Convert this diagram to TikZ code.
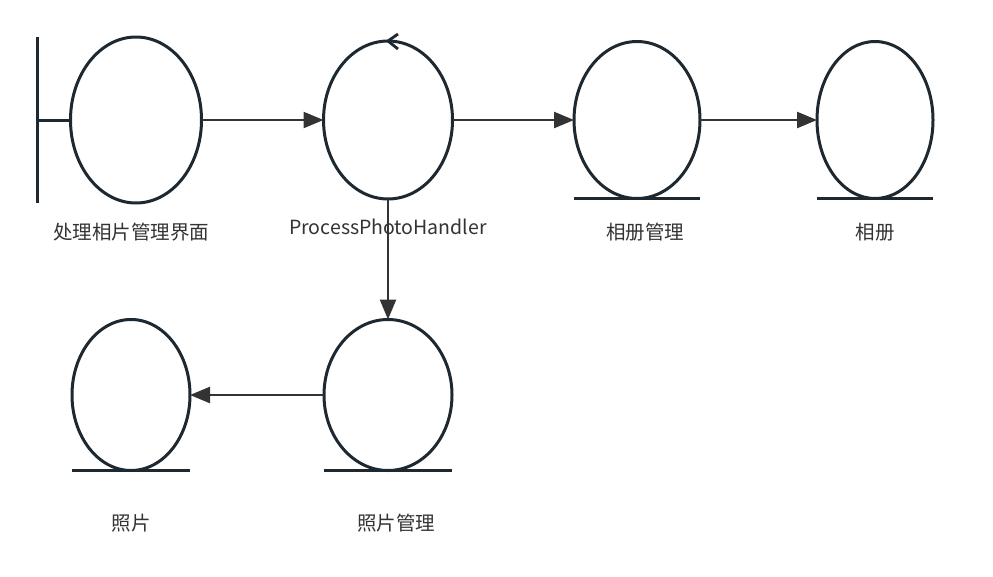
\documentclass[tikz,border=0pt]{standalone}
\usepackage{fontspec}
\newfontfamily\cjk{Noto Sans CJK SC}
\usetikzlibrary{arrows.meta,shapes.geometric}
\definecolor{strk}{HTML}{1E2830}
\definecolor{lnk}{HTML}{333333}
\definecolor{txt}{HTML}{333333}
\begin{document}
\begin{tikzpicture}[x=1pt,y=-1pt,
  robj/.style={ellipse,draw=strk,line width=3pt,inner sep=0pt,outer sep=0pt},
  link/.style={draw=lnk,line width=2.4pt,-{Triangle[length=20pt,width=16pt]}},
  uline/.style={draw=strk,line width=3pt},
  lbl/.style={font=\cjk\fontsize{19.5}{22}\selectfont,text=txt,inner sep=0pt}]
\useasboundingbox[fill=white] (0,0) rectangle (993,576);
% nodes
\node[robj,minimum width=131pt,minimum height=166pt] (ui) at (136,120) {};
\node[robj,minimum width=129pt,minimum height=158pt] (ctl) at (388,120) {};
\node[robj,minimum width=126pt,minimum height=157pt] (am) at (637,120) {};
\node[robj,minimum width=116pt,minimum height=157pt] (al) at (875,120) {};
\node[robj,minimum width=128pt,minimum height=151pt] (pm) at (388,395) {};
\node[robj,minimum width=118pt,minimum height=151pt] (ph) at (131,395) {};
% boundary marker
\coordinate (bt) at (37,37);
\coordinate (bb) at (37,203);
\draw[uline] (bt) -- (bb);
\draw[uline] (ui.west) -- (ui.west -| bt);
% control marker
\draw[draw=strk,line width=2.8pt] ([shift={(10,-7)}]ctl.north) -- (ctl.north) -- ++(10,8);
% entity underlines
\foreach \n in {am,al,pm,ph}{
  \draw[uline] (\n.west |- \n.south) -- (\n.east |- \n.south);
}
% connectors
\draw[link] (ui.east) -- (ctl.west);
\draw[link] (ctl.east) -- (am.west);
\draw[link] (am.east) -- (al.west);
\draw[link] (ctl.south) -- (pm.north);
\draw[link] (pm.west) -- (ph.east);
% labels
\node[lbl] (ui-l) at (131,232) {处理相片管理界面};
\node[lbl] (ctl-l) at (388,227) {ProcessPhotoHandler};
\node[lbl] (am-l) at (645,232) {相册管理};
\node[lbl] (al-l) at (875,232) {相册};
\node[lbl] (pm-l) at (396,523) {照片管理};
\node[lbl] (ph-l) at (131,523) {照片};
\end{tikzpicture}
\end{document}
